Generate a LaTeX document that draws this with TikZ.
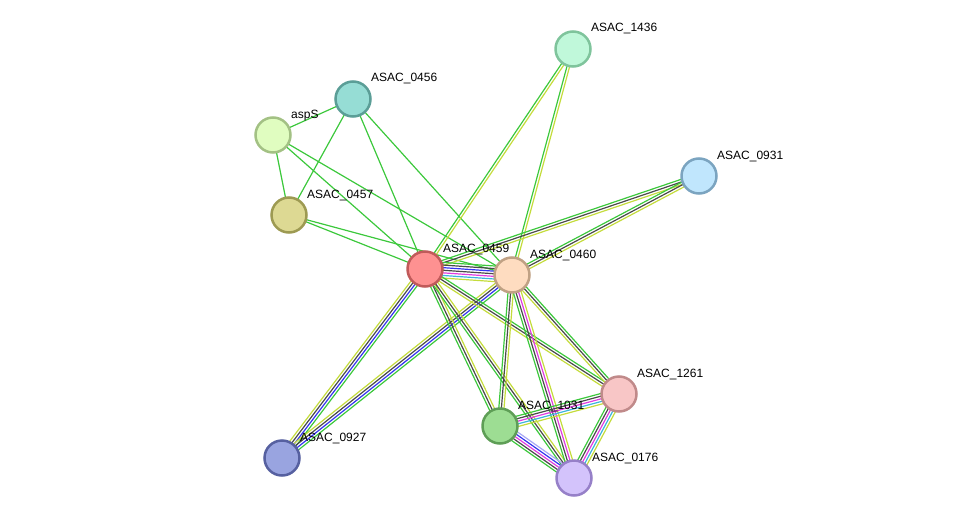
\documentclass[tikz,border=0pt]{standalone}
\usepackage{fontspec}
\setmainfont{Liberation Sans}
\usetikzlibrary{calc,backgrounds}
\definecolor{eg}{HTML}{3CC83C}
\definecolor{ed}{HTML}{4A4A4A}
\definecolor{eb}{HTML}{3434F0}
\definecolor{em}{HTML}{E03CE0}
\definecolor{ec}{HTML}{3CB4DC}
\definecolor{ey}{HTML}{C4DC3C}
\definecolor{el}{HTML}{A8A8F4}
\tikzset{
  prot/.style={circle, minimum size=35pt, inner sep=0pt, line width=2.5pt},
  lab/.style={anchor=base west, font=\fontsize{12pt}{14pt}\selectfont, inner sep=0pt},
  eline/.style={line width=1.2pt}
}
\newcommand\medge[3]{%
  \foreach \c [count=\i] in {#3} {\xdef\nn{\i}}%
  \foreach \c [count=\i] in {#3} {%
    \pgfmathsetmacro\off{(\i-(\nn+1)/2)*2.6}%
    \draw[eline,\c] ($(#1.center)!\off pt!90:(#2.center)$) -- ($(#2.center)!\off pt!-90:(#1.center)$);
  }%
}
\begin{document}
\begin{tikzpicture}[x=1pt,y=-1pt]
\useasboundingbox (0,0) rectangle (976,524);
% nodes
\node[prot, fill={rgb,255:red,192;green,248;blue,218}, draw={rgb,255:red,127;green,196;blue,156}] (n1436) at (573,49) {};
\node[prot, fill={rgb,255:red,150;green,221;blue,213}, draw={rgb,255:red,91;green,158;blue,151}] (n0456) at (353,99) {};
\node[prot, fill={rgb,255:red,224;green,253;blue,192}, draw={rgb,255:red,163;green,193;blue,132}] (aspS) at (273,135) {};
\node[prot, fill={rgb,255:red,192;green,230;blue,253}, draw={rgb,255:red,123;green,164;blue,192}] (n0931) at (699,176) {};
\node[prot, fill={rgb,255:red,221;green,217;blue,147}, draw={rgb,255:red,157;green,154;blue,82}] (n0457) at (289,215) {};
\node[prot, fill={rgb,255:red,254;green,145;blue,145}, draw={rgb,255:red,192;green,90;blue,90}] (n0459) at (425,269) {};
\node[prot, fill={rgb,255:red,254;green,220;blue,192}, draw={rgb,255:red,192;green,161;blue,132}] (n0460) at (512,275) {};
\node[prot, fill={rgb,255:red,248;green,198;blue,198}, draw={rgb,255:red,192;green,138;blue,138}] (n1261) at (619,394) {};
\node[prot, fill={rgb,255:red,157;green,221;blue,147}, draw={rgb,255:red,94;green,158;blue,86}] (n1031) at (500,426) {};
\node[prot, fill={rgb,255:red,153;green,164;blue,224}, draw={rgb,255:red,86;green,96;blue,160}] (n0927) at (282,458) {};
\node[prot, fill={rgb,255:red,211;green,195;blue,251}, draw={rgb,255:red,150;green,128;blue,200}] (n0176) at (574,478) {};
% labels
\node[lab] (l1436) at ($(n1436.center)+(18,-17)$) {ASAC\_1436};
\node[lab] (l0456) at ($(n0456.center)+(18,-17)$) {ASAC\_0456};
\node[lab] (laspS) at ($(aspS.center)+(18,-17)$) {aspS};
\node[lab] (l0931) at ($(n0931.center)+(18,-17)$) {ASAC\_0931};
\node[lab] (l0457) at ($(n0457.center)+(18,-17)$) {ASAC\_0457};
\node[lab] (l0459) at ($(n0459.center)+(18,-17)$) {ASAC\_0459};
\node[lab] (l0460) at ($(n0460.center)+(18,-17)$) {ASAC\_0460};
\node[lab] (l1261) at ($(n1261.center)+(18,-17)$) {ASAC\_1261};
\node[lab] (l1031) at ($(n1031.center)+(18,-17)$) {ASAC\_1031};
\node[lab] (l0927) at ($(n0927.center)+(18,-17)$) {ASAC\_0927};
\node[lab] (l0176) at ($(n0176.center)+(18,-17)$) {ASAC\_0176};
% edges
\begin{scope}[on background layer]
\medge{aspS}{n0456}{eg}
\medge{aspS}{n0457}{eg}
\medge{aspS}{n0459}{eg}
\medge{aspS}{n0460}{eg}
\medge{n0456}{n0457}{eg}
\medge{n0456}{n0459}{eg}
\medge{n0456}{n0460}{eg}
\medge{n0457}{n0459}{eg}
\medge{n0457}{n0460}{eg}
\medge{n0459}{n1436}{ey,eg}
\medge{n0460}{n1436}{ey,eg}
\medge{n0459}{n0931}{ey,ed,eg}
\medge{n0460}{n0931}{ey,ed,eg}
\medge{n0459}{n0460}{ey,ec,em,ed,eb,ed,eg}
\medge{n0927}{n0459}{eg,eb,ed,ey}
\medge{n0927}{n0460}{eg,eb,ed,ey}
\medge{n0459}{n1031}{eg,ed,ey}
\medge{n0459}{n0176}{eg,ed,ey}
\medge{n0459}{n1261}{ey,ed,eg}
\medge{n0460}{n1031}{eg,ed,ey}
\medge{n0460}{n0176}{eg,ed,em,ey}
\medge{n0460}{n1261}{ey,ed,eg}
\medge{n1031}{n1261}{ey,ec,em,ed,eg}
\medge{n1031}{n0176}{eg,ed,em,eb,el}
\medge{n1261}{n0176}{eg,ed,em,ec,ey}
\end{scope}
\end{tikzpicture}
\end{document}
